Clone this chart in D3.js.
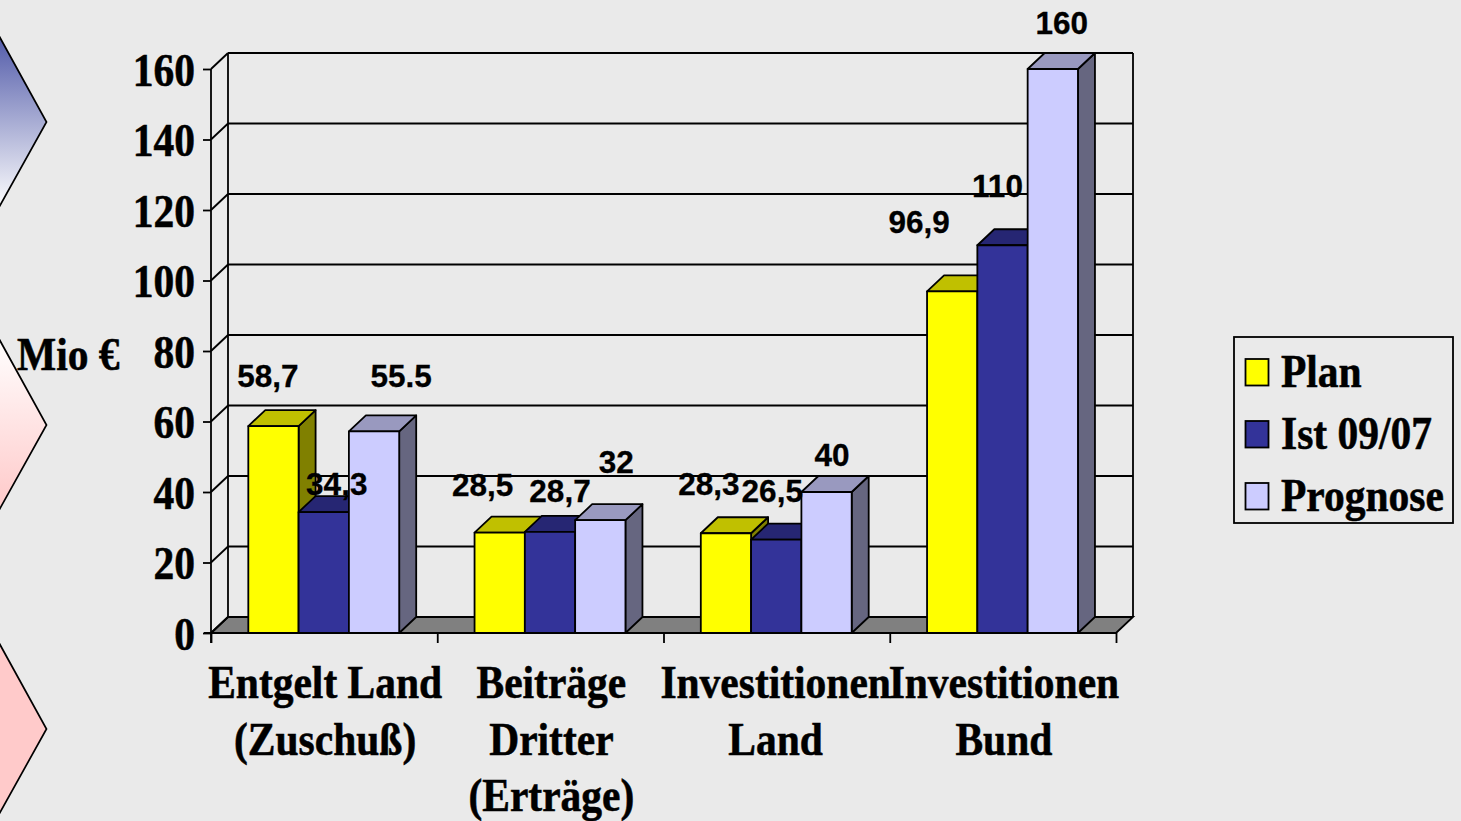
<!DOCTYPE html>
<html><head><meta charset="utf-8">
<script src="https://cdn.jsdelivr.net/npm/d3@7"></script>
<style>html,body{margin:0;padding:0;background:#eaeaea;overflow:hidden}svg{display:block}</style>
</head><body>
<svg id="c" width="1461" height="821"></svg>
<script>
const categories = [["Entgelt Land","(Zuschuß)"],["Beiträge","Dritter","(Erträge)"],["Investitionen","Land"],["Investitionen","Bund"]];
const categoryKeys = ["Entgelt","Beitraege","InvLand","InvBund"];
const seriesNames = ["Plan","Ist 09/07","Prognose"];
const planValues = [58.7,28.5,28.3,96.9];
const istValues = [34.3,28.7,26.5,110];
const prognoseValues = [57.2,32,40,160];
const planLabels = ["58,7","28,5","28,3","96,9"];
const istLabels = ["34,3","28,7","26,5","110"];
const prognoseLabels = ["55.5","32","40","160"];
const yTicks = [0,20,40,60,80,100,120,140,160];

const seriesValues = [planValues,istValues,prognoseValues];
const seriesLabels = [planLabels,istLabels,prognoseLabels];
const palette = [
  {front:"#ffff00",top:"#c0c000",side:"#808000"},
  {front:"#333399",top:"#262673",side:"#1a1a4d"},
  {front:"#ccccff",top:"#9999bf",side:"#666680"}];
// label placement relative to the top-centre of each bar's front face, [series][category]
const labelShift = [
  [[-5.5,-39],[-17,-36.5],[-17,-38],[-33,-58]],
  [[13,-17],[10,-30],[-4,-38],[-5,-48]],
  [[27,-44],[16,-47],[5.5,-26],[9,-35]]];

const svg = d3.select("#c");
const DX = 17, DY = 16, X0 = 211, X1 = 1116, Y0 = 633, Y1 = 69, SW = 1.8;
const y = d3.scaleLinear().domain([0,160]).range([Y0,Y1]);
const x = d3.scaleBand().domain(categoryKeys).range([X0,X1]);
const xs = d3.scaleBand().domain(seriesNames).range([37.3,188.2]);
const serif = "'Liberation Serif','Times New Roman',serif";
const sans = "'Liberation Sans',Arial,sans-serif";
const ink = "#000";

// decorative chevrons at the left edge
const defs = svg.append("defs");
const g1 = defs.append("linearGradient").attr("id","gBlue").attr("x1",0).attr("y1",0).attr("x2",0).attr("y2",1);
g1.append("stop").attr("offset","0%").attr("stop-color","#5059a8");
g1.append("stop").attr("offset","100%").attr("stop-color","#ffffff");
const g2 = defs.append("linearGradient").attr("id","gPink").attr("x1",0).attr("y1",0).attr("x2",0).attr("y2",1);
g2.append("stop").attr("offset","0%").attr("stop-color","#ffffff");
g2.append("stop").attr("offset","100%").attr("stop-color","#ffc8c8");
[{c:122,f:"url(#gBlue)"},{c:425,f:"url(#gPink)"},{c:729,f:"#ffcaca"}].forEach(d=>{
  svg.append("path").attr("d",`M-2,${d.c-88}L46.5,${d.c}L-2,${d.c+87}Z`)
    .attr("fill",d.f).attr("stroke",ink).attr("stroke-width",1.7);
});

// floor
svg.append("path").attr("d",`M${X0},${Y0}L${X0+DX},${Y0-DY}H${X1+DX}L${X1},${Y0}Z`)
  .attr("fill","#808080").attr("stroke",ink).attr("stroke-width",SW);

// walls and gridlines
svg.selectAll(".grid").data(yTicks).join("line")
  .attr("x1",X0+DX).attr("x2",X1+DX).attr("y1",d=>y(d)-DY).attr("y2",d=>y(d)-DY)
  .attr("stroke",ink).attr("stroke-width",SW);
svg.selectAll(".side").data(yTicks).join("line")
  .attr("x1",X0).attr("x2",X0+DX).attr("y1",d=>y(d)).attr("y2",d=>y(d)-DY)
  .attr("stroke",ink).attr("stroke-width",SW);
svg.append("line").attr("x1",X0+DX).attr("x2",X0+DX).attr("y1",y(0)-DY).attr("y2",y(160)-DY).attr("stroke",ink).attr("stroke-width",SW);
svg.append("line").attr("x1",X1+DX).attr("x2",X1+DX).attr("y1",y(0)-DY).attr("y2",y(160)-DY).attr("stroke",ink).attr("stroke-width",SW);

// bars
categoryKeys.forEach((cat,ci)=>{
  seriesNames.forEach((s,si)=>{
    const v = seriesValues[si][ci], l = x(cat)+xs(s), r = l+xs.bandwidth(), t = y(v), c = palette[si];
    const g = svg.append("g").attr("stroke",ink).attr("stroke-width",SW).attr("stroke-linejoin","round");
    g.append("path").attr("d",`M${r},${t}L${r+DX},${t-DY}V${Y0-DY}L${r},${Y0}Z`).attr("fill",c.side);
    g.append("path").attr("d",`M${l},${t}L${l+DX},${t-DY}H${r+DX}L${r},${t}Z`).attr("fill",c.top);
    g.append("rect").attr("x",l).attr("y",t).attr("width",r-l).attr("height",Y0-t).attr("fill",c.front);
  });
});

// axes
const yAxis = d3.axisLeft(y).tickValues(yTicks).tickSize(8).tickFormat(d3.format("d"));
const ya = svg.append("g").attr("transform",`translate(${X0},0)`).call(yAxis);
ya.select(".domain").attr("d",`M0,${Y1}V${Y0+10}`).attr("stroke",ink).attr("stroke-width",SW);
ya.selectAll(".tick line").attr("stroke",ink).attr("stroke-width",SW);
ya.selectAll(".tick text").attr("x",0).attr("y",0).attr("dy",0)
  .attr("transform","translate(-16,16) scale(1,1.13)")
  .attr("text-anchor","end").attr("fill",ink).attr("stroke",ink).attr("stroke-width",0.5)
  .style("font-family",serif).style("font-weight","bold").style("font-size","41.5px");

const xAxis = d3.axisBottom(d3.scaleLinear().domain([0,4]).range([X0,X1])).ticks(4).tickSize(10).tickFormat("");
const xa = svg.append("g").attr("transform",`translate(0,${Y0})`).call(xAxis);
xa.select(".domain").attr("d",`M${X0-7},0H${X1}`).attr("stroke",ink).attr("stroke-width",SW);
xa.selectAll(".tick line").attr("stroke",ink).attr("stroke-width",SW);

function serifText(tx,ty,str,anchor,size,sy){
  svg.append("text").attr("transform",`translate(${tx},${ty}) scale(1,${sy})`)
    .attr("text-anchor",anchor).attr("fill",ink).attr("stroke",ink).attr("stroke-width",0.5)
    .style("font-family",serif).style("font-weight","bold").style("font-size",size+"px").text(str);
}
categories.forEach((lines,i)=>{
  const cx = x(categoryKeys[i])+x.bandwidth()/2;
  lines.forEach((t,j)=>serifText(cx+(i===2?-1:1),698+j*56.5,t,"middle",41.5,1.13));
});
serifText(17,370,"Mio €","start",41.5,1.13);

// data labels
categoryKeys.forEach((cat,ci)=>{
  seriesNames.forEach((s,si)=>{
    const cx = x(cat)+xs(s)+xs.bandwidth()/2, t = y(seriesValues[si][ci]), o = labelShift[si][ci];
    svg.append("text").attr("x",cx+o[0]).attr("y",t+o[1]).attr("text-anchor","middle").attr("fill",ink)
      .attr("stroke",ink).attr("stroke-width",0.3)
      .style("font-family",sans).style("font-weight","bold").style("font-size","31.5px")
      .text(seriesLabels[si][ci]);
  });
});

// legend
svg.append("rect").attr("x",1234).attr("y",337).attr("width",219).attr("height",186)
  .attr("fill","none").attr("stroke",ink).attr("stroke-width",SW);
seriesNames.forEach((s,i)=>{
  svg.append("rect").attr("x",1245.5).attr("y",359+i*62).attr("width",23).attr("height",26.5)
    .attr("fill",palette[i].front).attr("stroke",ink).attr("stroke-width",SW);
  serifText(1281,387+i*62,s,"start",41.5,1.13);
});
</script>
</body></html>
